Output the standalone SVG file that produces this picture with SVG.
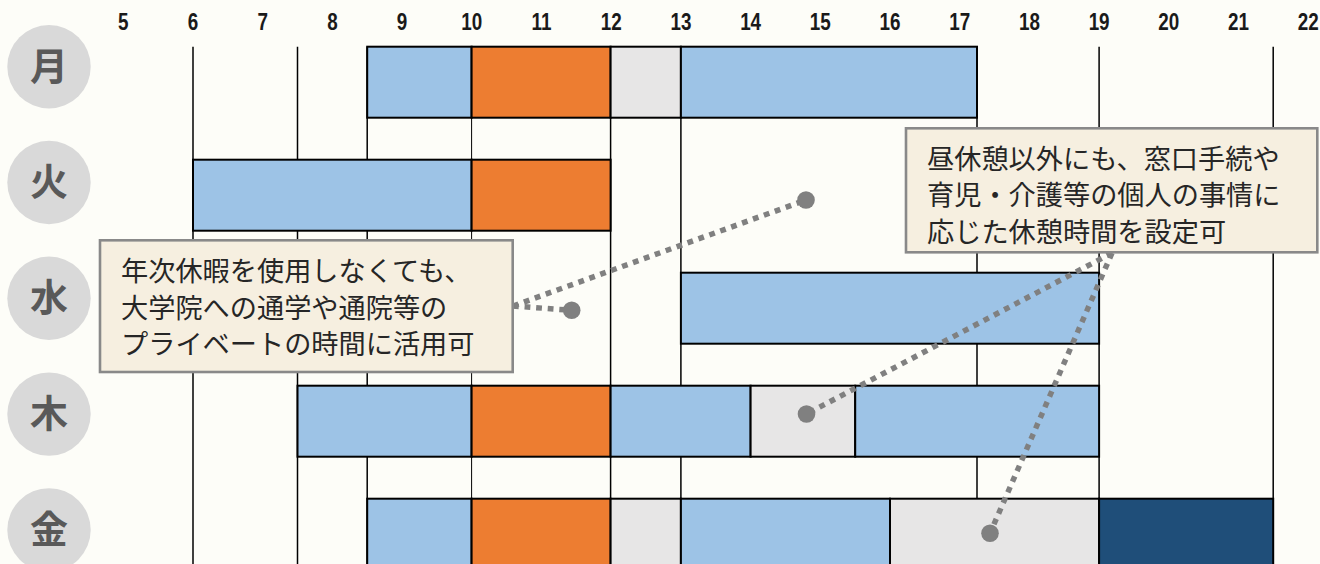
<svg xmlns="http://www.w3.org/2000/svg" width="1320" height="564" viewBox="0 0 1320 564">
<style>
.hr{font-family:"Liberation Sans",Arial,sans-serif;font-weight:bold;font-size:23px;fill:#1a1a1a;text-anchor:middle}
.day circle{fill:#D9D9D9}
.day text{font-family:"Noto Sans CJK JP",sans-serif;font-weight:bold;font-size:38px;fill:#595959;text-anchor:middle}
.grid line{stroke:#000;stroke-width:1.5}
.bar rect{stroke:#000;stroke-width:2}
.b{fill:#9DC3E6}.o{fill:#ED7D31}.g{fill:#E7E6E6}.n{fill:#1F4E79}
.call rect{fill:#F6EFE0;stroke:#898989;stroke-width:2.6}
.call text{font-family:"Noto Sans CJK JP",sans-serif;font-size:27.2px;fill:#262626}
.con line{stroke:#808080;stroke-width:5.5;stroke-dasharray:5.8 5.8}
.con circle{fill:#808080}
</style>
<rect width="1320" height="564" fill="#FDFDF8"/>
<g id="axis" transform="scale(0.82 1)">
<text class="hr" x="150.4" y="30.5">5</text>
<text class="hr" x="235.4" y="30.5">6</text>
<text class="hr" x="320.4" y="30.5">7</text>
<text class="hr" x="405.4" y="30.5">8</text>
<text class="hr" x="490.4" y="30.5">9</text>
<text class="hr" x="575.4" y="30.5">10</text>
<text class="hr" x="660.4" y="30.5">11</text>
<text class="hr" x="745.4" y="30.5">12</text>
<text class="hr" x="830.4" y="30.5">13</text>
<text class="hr" x="915.4" y="30.5">14</text>
<text class="hr" x="1000.4" y="30.5">15</text>
<text class="hr" x="1085.4" y="30.5">16</text>
<text class="hr" x="1170.4" y="30.5">17</text>
<text class="hr" x="1255.4" y="30.5">18</text>
<text class="hr" x="1340.4" y="30.5">19</text>
<text class="hr" x="1425.4" y="30.5">20</text>
<text class="hr" x="1510.4" y="30.5">21</text>
<text class="hr" x="1595.4" y="30.5">22</text>
</g>
<g id="grid" class="grid">
<line x1="193" y1="46.7" x2="193" y2="564"/>
<line x1="297.5" y1="46.7" x2="297.5" y2="564"/>
<line x1="367.2" y1="46.7" x2="367.2" y2="564"/>
<line x1="471.6" y1="46.7" x2="471.6" y2="564" style="stroke-width:1"/>
<line x1="610.6" y1="46.7" x2="610.6" y2="564"/>
<line x1="680.9" y1="46.7" x2="680.9" y2="564"/>
<line x1="977" y1="46.7" x2="977" y2="564"/>
<line x1="1099.1" y1="46.7" x2="1099.1" y2="564"/>
<line x1="1273.2" y1="46.7" x2="1273.2" y2="564"/>
</g>
<g id="day-mon" class="day"><circle cx="49" cy="66.7" r="41.7"/><text x="49" y="79.5">月</text></g>
<g id="day-tue" class="day"><circle cx="49" cy="182.5" r="41.7"/><text x="49" y="195.3">火</text></g>
<g id="day-wed" class="day"><circle cx="49" cy="298.3" r="41.7"/><text x="49" y="311.1">水</text></g>
<g id="day-thu" class="day"><circle cx="49" cy="414.1" r="41.7"/><text x="49" y="426.9">木</text></g>
<g id="day-fri" class="day"><circle cx="49" cy="529.9" r="41.7"/><text x="49" y="542.7">金</text></g>
<g id="bar-mon" class="bar">
<rect class="b" x="367.2" y="46.7" width="104.4" height="71"/>
<rect class="o" x="471.6" y="46.7" width="139" height="71"/>
<rect class="g" x="610.6" y="46.7" width="70.3" height="71"/>
<rect class="b" x="680.9" y="46.7" width="296.1" height="71"/>
</g>
<g id="bar-tue" class="bar">
<rect class="b" x="193" y="159.7" width="278.6" height="71"/>
<rect class="o" x="471.6" y="159.7" width="139" height="71"/>
</g>
<g id="bar-wed" class="bar">
<rect class="b" x="680.9" y="272.7" width="418.2" height="71"/>
</g>
<g id="bar-thu" class="bar">
<rect class="b" x="297.5" y="385.7" width="174.1" height="71"/>
<rect class="o" x="471.6" y="385.7" width="139" height="71"/>
<rect class="b" x="610.6" y="385.7" width="140" height="71"/>
<rect class="g" x="750.6" y="385.7" width="104.6" height="71"/>
<rect class="b" x="855.2" y="385.7" width="243.9" height="71"/>
</g>
<g id="bar-fri" class="bar">
<rect class="b" x="367.2" y="498.7" width="104.4" height="71"/>
<rect class="o" x="471.6" y="498.7" width="139" height="71"/>
<rect class="g" x="610.6" y="498.7" width="70.3" height="71"/>
<rect class="b" x="680.9" y="498.7" width="209.1" height="71"/>
<rect class="g" x="890" y="498.7" width="209.1" height="71"/>
<rect class="n" x="1099.1" y="498.7" width="174.1" height="71"/>
</g>
<g id="connectors" class="con">
<line x1="513" y1="306" x2="806" y2="200"/>
<line x1="513" y1="306" x2="571.7" y2="310.3"/>
<line x1="1112" y1="253" x2="806.5" y2="414"/>
<line x1="1112" y1="253" x2="990" y2="533.3"/>
<circle cx="806" cy="200" r="8.8"/>
<circle cx="571.7" cy="310.3" r="8.8"/>
<circle cx="806.5" cy="414" r="8.8"/>
<circle cx="990" cy="533.3" r="8.8"/>
</g>
<g id="callout-left" class="call">
<rect x="100" y="240.3" width="412.7" height="131.7"/>
<text x="121" y="281.2">年次休暇を使用しなくても、</text>
<text x="121" y="317.7">大学院への通学や通院等の</text>
<text x="121" y="354.2">プライベートの時間に活用可</text>
</g>
<g id="callout-right" class="call">
<rect x="906" y="128.3" width="411.3" height="124"/>
<text x="927" y="168.5">昼休憩以外にも、窓口手続や</text>
<text x="927" y="205">育児・介護等の個人の事情に</text>
<text x="927" y="241.5">応じた休憩時間を設定可</text>
</g>
</svg>
